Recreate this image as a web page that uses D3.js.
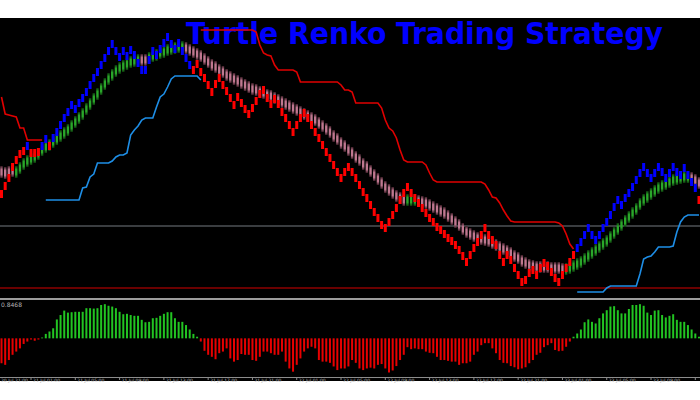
<!DOCTYPE html>
<html>
<head>
<meta charset="utf-8">
<script src="https://cdn.jsdelivr.net/npm/d3@7"></script>
<style>
  html, body { margin: 0; padding: 0; background: #ffffff; }
  svg { display: block; }
</style>
</head>
<body>
<div id="chart"></div>
<script>
const _ = null;

// Renko brick mid prices (one per bar).
const brickMid = [
  106, 114, 122, 133, 140, 146, 149, 154, 147, 147,
  148, 154, 161, 154, 162, 168, 175, 182, 188, 195,
  191, 197, 202, 208, 215, 222, 228, 235, 242, 249,
  256, 249, 243, 249, 244, 250, 245, 237, 230, 230,
  240, 249, 245, 251, 257, 263, 256, 251, 257, 249,
  242, 235, 230, 236, 228, 222, 215, 208, 216, 222,
  215, 209, 202, 195, 203, 197, 191, 186, 192, 199,
  206, 210, 202, 196, 201, 196, 188, 182, 175, 168,
  175, 182, 187, 182, 175, 168, 162, 155, 148, 142,
  135, 128, 122, 128, 133, 128, 122, 115, 108, 102,
  95, 88, 82, 75, 72, 78, 85, 92, 100, 107,
  113, 107, 102, 97, 92, 87, 82, 78, 73, 70,
  66, 62, 59, 55, 50, 44, 38, 45, 52, 58,
  65, 72, 65, 60, 55, 45, 38, 45, 40, 32,
  25, 18, 20, 27, 30, 25, 32, 37, 34, 28,
  22, 18, 25, 32, 38, 45, 52, 58, 65, 72,
  65, 60, 65, 72, 78, 85, 93, 100, 95, 102,
  107, 113, 120, 127, 133, 127, 122, 127, 133, 128,
  122, 127, 133, 128, 125, 132, 125, 118, 112, 100
];

// Trend colour of the bricks, as runs of [state, count].
const brickTrend = [["dn", 7], ["up", 1], ["dn", 3], ["up", 2], ["dn", 1], ["up", 38], ["dn", 104], ["up", 33], ["dn", 1]];

// Smoothed signal bricks (mid price per bar).
const signalMid = [
  128, 127, 128, 129, 128, 132, 136, 139, 141, 143,
  146, 150, 153, 155, 158, 161, 164, 167, 170, 174,
  178, 182, 186, 191, 196, 201, 206, 211, 216, 221,
  225, 229, 232, 234, 236, 238, 239, 240, 240, 240,
  242, 244, 245, 247, 248, 250, 251, 252, 253, 253,
  252, 250, 248, 246, 244, 241, 238, 235, 233, 230,
  228, 225, 223, 221, 219, 217, 215, 213, 211, 210,
  208, 207, 205, 204, 202, 200, 198, 196, 194, 192,
  190, 188, 186, 184, 182, 180, 177, 174, 171, 168,
  164, 161, 157, 154, 150, 147, 143, 140, 136, 133,
  129, 125, 121, 117, 113, 110, 107, 104, 102, 100,
  100, 100, 100, 99, 98, 97, 95, 93, 91, 89,
  87, 84, 81, 78, 75, 71, 68, 66, 64, 62,
  61, 60, 59, 57, 55, 53, 51, 49, 47, 44,
  42, 39, 37, 35, 34, 33, 33, 33, 33, 32,
  32, 32, 31, 31, 32, 34, 36, 38, 41, 44,
  47, 50, 53, 56, 59, 63, 67, 71, 75, 79,
  83, 87, 91, 96, 100, 103, 106, 109, 112, 114,
  116, 118, 120, 121, 122, 123, 123, 122, 120, 117
];

const signalTrend = [["dn", 4], ["up", 34], ["dn", 2], ["up", 10], ["dn", 60], ["up", 3], ["dn", 40], ["up", 34], ["dn", 3]];

// Turtle channel: upper (red) and lower (blue) lines.
const upperBand = [
  203, 186, 185, 184, 183, 172, 172, 160, 160, 160,
  160, 160, _, _, _, _, _, _, _, _,
  _, _, _, _, _, _, _, _, _, _,
  _, _, _, _, _, _, _, _, _, _,
  _, _, _, _, _, _, _, _, _, _,
  _, _, _, _, 270, 270, 270, 270, 270, 270,
  270, 270, 270, 270, 270, 270, 270, 270, 270, 268,
  255, 247, 245, 244, 235, 230, 230, 230, 230, 230,
  228, 218, 218, 218, 218, 218, 218, 218, 218, 218,
  218, 218, 215, 210, 210, 208, 197, 197, 197, 197,
  197, 197, 197, 192, 180, 172, 169, 162, 150, 140,
  138, 138, 138, 138, 138, 135, 127, 120, 118, 118,
  118, 118, 118, 118, 118, 118, 118, 118, 118, 118,
  118, 116, 110, 103, 102, 97, 90, 84, 79, 78,
  78, 78, 78, 78, 78, 78, 78, 78, 78, 78,
  78, 77, 74, 66, 56, 51, _, _, _, _,
  _, _, _, _, _, _, _, _, _, _,
  _, _, _, _, _, _, _, _, _, _,
  _, _, _, _, _, _, _, _, _, _
];

const lowerBand = [
  _, _, _, _, _, _, _, _, _, _,
  _, _, 100, 100, 100, 100, 100, 100, 100, 100,
  100, 100, 112, 113, 123, 126, 137, 137, 137, 137,
  139, 143, 145, 145, 147, 165, 170, 174, 180, 182,
  182, 182, 193, 203, 206, 213, 221, 224, 224, 224,
  224, 224, 224, 224, 220, _, _, _, _, _,
  _, _, _, _, _, _, _, _, _, _,
  _, _, _, _, _, _, _, _, _, _,
  _, _, _, _, _, _, _, _, _, _,
  _, _, _, _, _, _, _, _, _, _,
  _, _, _, _, _, _, _, _, _, _,
  _, _, _, _, _, _, _, _, _, _,
  _, _, _, _, _, _, _, _, _, _,
  _, _, _, _, _, _, _, _, _, _,
  _, _, _, _, _, _, _, _, _, _,
  _, _, _, _, _, _, 8, 8, 8, 8,
  8, 8, 8, 8, 12, 14, 14, 14, 14, 14,
  14, 14, 14, 26, 41, 43, 44, 48, 53, 53,
  53, 53, 54, 68, 78, 83, 85, 85, 85, 85
];

// Horizontal price levels drawn on the main window.
const priceLevels = [74, 12];

// Oscillator histogram in the sub window.
const histValues = [
  -0.62, -0.66, -0.54, -0.41, -0.33, -0.25, -0.14, -0.08, -0.03, -0.06,
  -0.03, 0.02, 0.11, 0.17, 0.25, 0.47, 0.58, 0.69, 0.64, 0.65,
  0.66, 0.66, 0.66, 0.75, 0.75, 0.74, 0.75, 0.83, 0.85, 0.81,
  0.79, 0.75, 0.66, 0.60, 0.61, 0.58, 0.56, 0.56, 0.46, 0.40,
  0.41, 0.50, 0.51, 0.56, 0.61, 0.65, 0.65, 0.50, 0.41, 0.41,
  0.33, 0.22, 0.11, 0.04, -0.08, -0.31, -0.41, -0.46, -0.52, -0.37,
  -0.33, -0.25, -0.50, -0.58, -0.54, -0.39, -0.41, -0.41, -0.54, -0.56,
  -0.46, -0.33, -0.33, -0.37, -0.41, -0.41, -0.33, -0.58, -0.75, -0.83,
  -0.66, -0.50, -0.33, -0.25, -0.21, -0.25, -0.54, -0.58, -0.58, -0.61,
  -0.70, -0.79, -0.75, -0.75, -0.70, -0.54, -0.61, -0.75, -0.79, -0.75,
  -0.73, -0.75, -0.66, -0.64, -0.75, -0.85, -0.80, -0.69, -0.54, -0.41,
  -0.22, -0.27, -0.25, -0.27, -0.27, -0.33, -0.36, -0.37, -0.46, -0.54,
  -0.54, -0.56, -0.58, -0.58, -0.66, -0.62, -0.62, -0.58, -0.41, -0.33,
  -0.17, -0.12, -0.12, -0.25, -0.37, -0.54, -0.61, -0.62, -0.69, -0.72,
  -0.77, -0.75, -0.72, -0.62, -0.54, -0.41, -0.36, -0.22, -0.17, -0.12,
  -0.29, -0.32, -0.31, -0.21, -0.08, 0.04, 0.12, 0.22, 0.40, 0.47,
  0.41, 0.37, 0.50, 0.62, 0.70, 0.79, 0.80, 0.70, 0.62, 0.62,
  0.73, 0.83, 0.83, 0.85, 0.81, 0.64, 0.58, 0.69, 0.70, 0.58,
  0.52, 0.56, 0.60, 0.46, 0.41, 0.41, 0.33, 0.22, 0.12, 0.04
];
const histMaxLabel = "0.8468";

// Time axis labels, one every 12 bars (the first one sits at the left edge).
const timeLabels = [
  "20 Jul 21:00", "21 Jul 01:00", "21 Jul 05:00", "21 Jul 09:00", "21 Jul 13:00",
  "21 Jul 17:00", "21 Jul 21:00", "22 Jul 01:00", "22 Jul 05:00", "22 Jul 09:00",
  "22 Jul 13:00", "22 Jul 17:00", "22 Jul 21:00", "23 Jul 01:00", "23 Jul 05:00",
  "23 Jul 09:00"
];
const firstTickBar = -4;
const tickStep = 12;
const tickCount = 17;

const chartTitle = "Turtle Renko Trading Strategy";

/**
 * Expands [state, count] runs into one state per bar.
 */
function expandRuns(runs) {
  return runs.flatMap(([state, count]) => Array(count).fill(state));
}

/**
 * Renders the renko chart with its oscillator window.
 */
function RenkoChart(selector) {
  const width = 700;
  const height = 400;
  const frameTop = 18;
  const frameBottom = 381;

  const container = d3.select(selector);
  container.selectAll("*").remove();

  const svg = container
    .append("svg")
    .attr("width", width)
    .attr("height", height);

  // Black chart background.
  svg
    .append("rect")
    .attr("x", 0)
    .attr("y", frameTop)
    .attr("width", width)
    .attr("height", frameBottom - frameTop)
    .attr("fill", "#000000");

  /**
   * Scales.
   */
  const x = d3.scaleLinear().domain([0, brickMid.length - 1]).range([1.5, 699]);
  const y = d3.scaleLinear().domain([3, 282]).range([297, 18]);
  const yHist = d3.scaleLinear().domain([-0.95, 0.8468]).range([376.5, 304.3]);

  // Gradients for the smoothed signal bricks.
  const defs = svg.append("defs");
  [
    { id: "sigUp", end: "#0a360a", mid: "#2aa82a" },
    { id: "sigDn", end: "#3a1a24", mid: "#c07890" },
  ].forEach((g) => {
    const grad = defs
      .append("linearGradient")
      .attr("id", g.id)
      .attr("x1", 0)
      .attr("y1", 0)
      .attr("x2", 0)
      .attr("y2", 1);
    grad.append("stop").attr("offset", "0%").attr("stop-color", g.end);
    grad.append("stop").attr("offset", "30%").attr("stop-color", g.mid);
    grad.append("stop").attr("offset", "70%").attr("stop-color", g.mid);
    grad.append("stop").attr("offset", "100%").attr("stop-color", g.end);
  });

  /**
   * Title.
   */
  svg
    .append("text")
    .attr("x", 186)
    .attr("y", 44)
    .attr("font-family", "'DejaVu Sans Condensed', 'DejaVu Sans', sans-serif")
    .attr("font-weight", "bold")
    .attr("font-size", 31)
    .attr("textLength", 477)
    .attr("lengthAdjust", "spacingAndGlyphs")
    .attr("fill", "#0000ff")
    .text(chartTitle);

  // Horizontal price levels.
  svg
    .selectAll(".level")
    .data(priceLevels)
    .join("line")
    .attr("class", "level")
    .attr("x1", 0)
    .attr("x2", width)
    .attr("y1", (d) => y(d))
    .attr("y2", (d) => y(d))
    .attr("stroke", (d, i) => (i === 0 ? "#3a3d40" : "#6a0000"))
    .attr("stroke-width", 2);

  /**
   * Signal bricks.
   */
  const signalState = expandRuns(signalTrend);
  svg
    .selectAll(".signal")
    .data(signalMid)
    .join("rect")
    .attr("class", "signal")
    .attr("x", (d, i) => x(i) - 1.2)
    .attr("y", (d) => y(d) - 6)
    .attr("width", 2.4)
    .attr("height", 12)
    .attr("fill", (d, i) => (signalState[i] === "up" ? "url(#sigUp)" : "url(#sigDn)"));

  /**
   * Renko bricks.
   */
  const brickState = expandRuns(brickTrend);
  svg
    .selectAll(".brick")
    .data(brickMid)
    .join("rect")
    .attr("class", "brick")
    .attr("x", (d, i) => x(i) - 1.5)
    .attr("y", (d) => y(d) - 4)
    .attr("width", 3)
    .attr("height", 8)
    .attr("fill", (d, i) => (brickState[i] === "up" ? "#0000ff" : "#ff0000"));

  /**
   * Channel lines.
   */
  const bandLine = d3
    .line()
    .defined((d) => d != null)
    .x((d, i) => x(i))
    .y((d) => y(d));

  svg
    .append("path")
    .attr("d", bandLine(upperBand))
    .attr("fill", "none")
    .attr("stroke", "#e00000")
    .attr("stroke-width", 1.6);

  svg
    .append("path")
    .attr("d", bandLine(lowerBand))
    .attr("fill", "none")
    .attr("stroke", "#1e8ee6")
    .attr("stroke-width", 1.6);

  /**
   * Sub window.
   */
  svg
    .append("line")
    .attr("x1", 0)
    .attr("x2", width)
    .attr("y1", 299)
    .attr("y2", 299)
    .attr("stroke", "#9c9c9c")
    .attr("stroke-width", 2);

  svg
    .selectAll(".hist")
    .data(histValues)
    .join("rect")
    .attr("class", "hist")
    .attr("x", (d, i) => x(i) - 1)
    .attr("y", (d) => yHist(Math.max(0, d)))
    .attr("width", 2)
    .attr("height", (d) => Math.abs(yHist(d) - yHist(0)))
    .attr("fill", (d) => (d >= 0 ? "#22c422" : "#e80000"));

  svg
    .append("text")
    .attr("x", 1)
    .attr("y", 306.5)
    .attr("font-family", "'DejaVu Sans', sans-serif")
    .attr("font-size", 6)
    .attr("fill", "#b4b4b4")
    .text(histMaxLabel);

  /**
   * Time axis.
   */
  svg
    .append("line")
    .attr("x1", 0)
    .attr("x2", width)
    .attr("y1", 377.5)
    .attr("y2", 377.5)
    .attr("stroke", "#8c8c8c")
    .attr("stroke-width", 1);

  const tickBars = d3.range(tickCount).map((k) => firstTickBar + k * tickStep);

  svg
    .selectAll(".tick")
    .data(tickBars)
    .join("line")
    .attr("class", "tick")
    .attr("x1", (d) => x(d))
    .attr("x2", (d) => x(d))
    .attr("y1", 377)
    .attr("y2", 380)
    .attr("stroke", "#8c8c8c");

  svg
    .selectAll(".ticklabel")
    .data(timeLabels)
    .join("text")
    .attr("class", "ticklabel")
    .attr("x", (d, k) => Math.max(1, x(tickBars[k]) + 2))
    .attr("y", 381.5)
    .attr("font-family", "'DejaVu Sans', sans-serif")
    .attr("font-size", 4.5)
    .attr("fill", "#b8b8b8")
    .text((d) => d);
}

RenkoChart("#chart");
</script>
</body>
</html>
